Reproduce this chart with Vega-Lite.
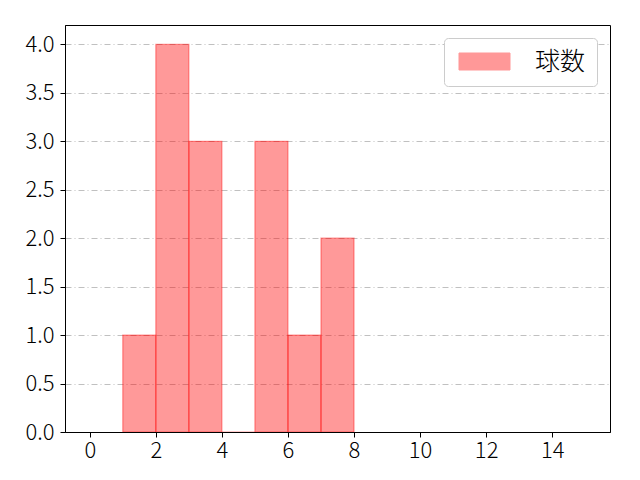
{
  "$schema": "https://vega.github.io/schema/vega-lite/v6.json",
  "width": 545,
  "height": 407,
  "autosize": "none",
  "padding": {"left": 65, "top": 25, "right": 30, "bottom": 48},
  "config": {
    "font": "Noto Sans CJK JP",
    "view": {"stroke": "black", "strokeWidth": 1}
  },
  "data": {
    "values": [
      {"start": 1, "end": 2, "count": 1, "series": "球数"},
      {"start": 2, "end": 3, "count": 4, "series": "球数"},
      {"start": 3, "end": 4, "count": 3, "series": "球数"},
      {"start": 4, "end": 5, "count": 0, "series": "球数"},
      {"start": 5, "end": 6, "count": 3, "series": "球数"},
      {"start": 6, "end": 7, "count": 1, "series": "球数"},
      {"start": 7, "end": 8, "count": 2, "series": "球数"}
    ]
  },
  "mark": {"type": "rect", "fillOpacity": 0.4, "stroke": "red", "strokeOpacity": 0.4, "strokeWidth": 1.2},
  "encoding": {
    "x": {
      "field": "start", "type": "quantitative",
      "scale": {"domain": [-0.75, 15.75], "nice": false, "zero": false},
      "axis": {"title": null, "values": [0, 2, 4, 6, 8, 10, 12, 14], "grid": false, "zindex": 1,
        "labelFontSize": 22, "labelFontWeight": 300, "labelColor": "black", "tickColor": "black", "domainColor": "black",
        "tickSize": 5, "labelPadding": 3}
    },
    "x2": {"field": "end"},
    "y": {
      "field": "count", "type": "quantitative",
      "scale": {"domain": [0, 4.2], "nice": false},
      "axis": {"title": null, "values": [0, 0.5, 1, 1.5, 2, 2.5, 3, 3.5, 4], "format": ".1f",
        "grid": true, "gridColor": "#b0b0b0", "gridDash": [6, 3, 1, 3], "gridWidth": 0.8,
        "labelFontSize": 22, "labelFontWeight": 300, "labelColor": "black", "tickColor": "black", "domainColor": "black",
        "tickSize": 5, "labelPadding": 6}
    },
    "y2": {"datum": 0},
    "color": {
      "field": "series", "type": "nominal",
      "scale": {"range": ["red"]},
      "legend": {
        "title": null, "orient": "top-right", "offset": 13,
        "strokeColor": "#cccccc", "cornerRadius": 4, "fillColor": "white",
        "padding": 11,
        "symbolType": "M-3,-1H3V1H-3Z", "symbolSize": 289, "symbolOffset": 17,
        "symbolOpacity": 0.4, "symbolStrokeColor": "red", "symbolStrokeWidth": 1,
        "labelFontSize": 25, "labelFontWeight": 300, "labelColor": "black", "labelOffset": 38
      }
    }
  }
}
